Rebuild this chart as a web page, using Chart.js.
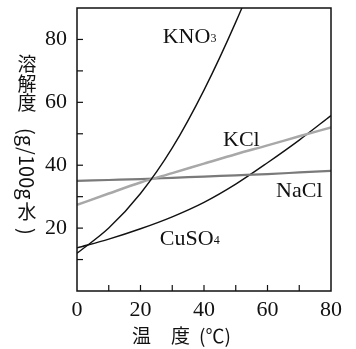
<!DOCTYPE html>
<html>
<head>
<meta charset="utf-8">
<script src="https://cdn.jsdelivr.net/npm/chart.js@4.4.1/dist/chart.umd.min.js"></script>
<style>
  html, body { margin: 0; padding: 0; background: #fff; }
  #wrap { width: 356px; height: 349px; }
</style>
</head>
<body>
<div id="wrap"><canvas id="myChart" width="356" height="349"></canvas></div>
<script>
// temperature (°C) and solubility (g / 100 g water)
const temps = [0, 10, 20, 30, 40, 50, 60, 70, 80];
const kno3  = [12, 20, 31, 45.5, 63.9, 85.5, 110, 138, 169];
const kcl   = [27.4, 31, 34.5, 37.5, 40.5, 43.5, 46.3, 49.2, 52];
const nacl  = [35, 35.3, 35.6, 36, 36.4, 36.8, 37.2, 37.7, 38.2];
const cuso4 = [13.7, 16.5, 19.8, 23.6, 28.2, 34, 40.8, 48, 55.8];

const yTickLabels = [20, 40, 60, 80];
const xTickLabels = [0, 20, 40, 60, 80];

const SERIF = '"Liberation Serif", "DejaVu Serif", serif';
const CJK = '"Noto Sans CJK JP", "Noto Sans", sans-serif';

function pts(ys) {
  return temps.map((t, i) => ({ x: t, y: ys[i] }));
}

// curve names placed in data coordinates: [main text, subscript, x, y(baseline)]
const curveNames = [
  ['KNO', '3', 27, 79],
  ['KCl', '', 46, 46.2],
  ['NaCl', '', 62.7, 30],
  ['CuSO', '4', 26.1, 14.7]
];

const framePlugin = {
  id: 'frame',
  afterDraw(chart) {
    const ctx = chart.ctx;
    const a = chart.chartArea;
    const xs = chart.scales.x, ys = chart.scales.y;
    ctx.save();
    ctx.strokeStyle = '#111';
    ctx.lineWidth = 1.5;
    ctx.strokeRect(a.left, a.top, a.right - a.left, a.bottom - a.top);
    // inward ticks
    ctx.lineWidth = 1.2;
    for (let v = 10; v < 80; v += 10) {
      const px = xs.getPixelForValue(v);
      ctx.beginPath(); ctx.moveTo(px, a.bottom); ctx.lineTo(px, a.bottom - 6); ctx.stroke();
    }
    for (let v = 10; v <= 80; v += 10) {
      const py = ys.getPixelForValue(v);
      ctx.beginPath(); ctx.moveTo(a.left, py); ctx.lineTo(a.left + 6, py); ctx.stroke();
    }

    // curve names
    ctx.fillStyle = '#111';
    ctx.textBaseline = 'alphabetic';
    ctx.textAlign = 'left';
    curveNames.forEach(n => {
      const px = xs.getPixelForValue(n[2]);
      const py = ys.getPixelForValue(n[3]);
      ctx.font = '22px ' + SERIF;
      ctx.fillText(n[0], px, py);
      if (n[1]) {
        const w = ctx.measureText(n[0]).width;
        ctx.font = '12px ' + SERIF;
        ctx.fillText(n[1], px + w, py - 1);
      }
    });

    // y axis title, vertical writing
    ctx.font = '19px ' + CJK;
    ctx.textAlign = 'center';
    ctx.textBaseline = 'middle';
    const cx = 27;
    ['溶', '解', '度'].forEach((c, i) => ctx.fillText(c, cx, 64 + i * 19.5));
    ctx.save();
    ctx.font = '20px ' + CJK;
    ctx.translate(cx, 128);
    ctx.rotate(Math.PI / 2);
    ctx.textAlign = 'left';
    ctx.fillText('(g/100g', 0, 0);
    ctx.restore();
    ctx.fillText('水', cx, 212);
    ctx.save();
    ctx.font = '20px ' + CJK;
    ctx.translate(cx, 228);
    ctx.rotate(Math.PI / 2);
    ctx.textAlign = 'left';
    ctx.fillText(')', 0, 0);
    ctx.restore();

    // x axis title
    ctx.textAlign = 'left';
    ctx.fillText('温', 132, 336);
    ctx.fillText('度', 171, 336);
    ctx.fillText('(℃)', 199, 336);
    ctx.restore();
  }
};

const config = {
  type: 'line',
  data: {
    datasets: [
      { label: 'KNO3', data: pts(kno3), borderColor: '#111', borderWidth: 1.4 },
      { label: 'KCl', data: pts(kcl), borderColor: '#a8a8a8', borderWidth: 2.5 },
      { label: 'NaCl', data: pts(nacl), borderColor: '#7a7a7a', borderWidth: 2.2 },
      { label: 'CuSO4', data: pts(cuso4), borderColor: '#111', borderWidth: 1.4 }
    ]
  },
  options: {
    responsive: false,
    animation: false,
    events: [],
    layout: { padding: { left: 0, right: 25, top: 8, bottom: 0 } },
    elements: {
      point: { radius: 0 },
      line: { tension: 0.4, cubicInterpolationMode: 'monotone', fill: false }
    },
    plugins: { legend: { display: false }, tooltip: { enabled: false } },
    scales: {
      x: {
        type: 'linear', min: 0, max: 80,
        grid: { display: false, drawTicks: false },
        border: { display: false },
        ticks: {
          stepSize: 20, padding: 6, color: '#111',
          font: { family: SERIF, size: 22 },
          callback: v => xTickLabels.includes(v) ? String(v) : ''
        },
        afterFit(s) { s.height = 58; s.paddingLeft = 0; s.paddingRight = 0; }
      },
      y: {
        type: 'linear', min: 0, max: 90,
        grid: { display: false, drawTicks: false },
        border: { display: false },
        ticks: {
          stepSize: 10, padding: 10, color: '#111',
          font: { family: SERIF, size: 22 },
          callback: v => yTickLabels.includes(v) ? String(v) : ''
        },
        afterFit(s) { s.width = 77; s.paddingTop = 0; s.paddingBottom = 0; }
      }
    }
  },
  plugins: [framePlugin]
};

const myChart = new Chart(document.getElementById('myChart'), config);
</script>
</body>
</html>
